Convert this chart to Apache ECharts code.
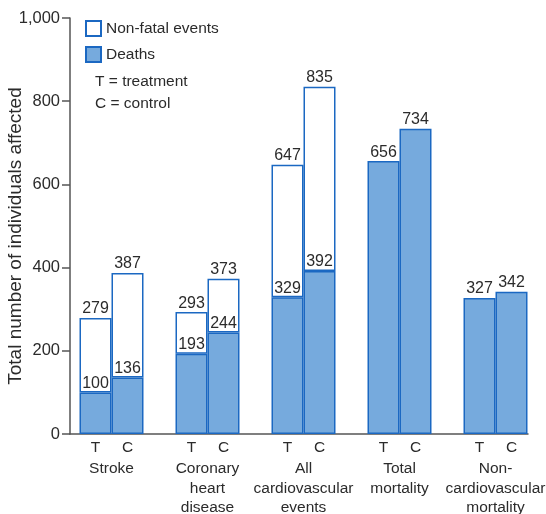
<!DOCTYPE html>
<html>
<head>
<meta charset="utf-8">
<script src="https://cdn.jsdelivr.net/npm/echarts@6/dist/echarts.min.js"></script>
<style>
  html, body { margin: 0; padding: 0; background: #fff; }
  #chart { width: 546px; height: 514px; }
</style>
</head>
<body>
<div id="chart"></div>
<script>
// outcome groups along the x axis
const groups = ["Stroke", "Coronary\nheart\ndisease", "All\ncardiovascular\nevents", "Total\nmortality", "Non-\ncardiovascular\nmortality"];

// deaths and total (deaths + non-fatal) for treatment and control
const deathsT = [100, 193, 329, 656, 327];
const deathsC = [136, 244, 392, 734, 342];
const totalT = [279, 293, 647, null, null];
const totalC = [387, 373, 835, null, null];

const yTicks = [0, 200, 400, 600, 800, 1000];

const FONT = "Liberation Sans, Arial, sans-serif";
const TEXT = "#2b2b2b";
const FILL = "#76aadd";
const EDGE = "#1b68c2";
const AXIS = "#555";

const nonFatal = (total, deaths) => total.map((t, i) => (t == null ? "-" : t - deaths[i]));

const chart = echarts.init(document.getElementById("chart"));

const deathSeries = (stack, data) => ({
    name: "Deaths",
    type: "bar",
    stack: stack,
    data: data,
    barWidth: 32,
    barGap: "0%",
    itemStyle: { color: FILL, borderColor: EDGE, borderWidth: 1.5 },
    label: {
        show: true,
        position: "top",
        distance: 1,
        color: TEXT,
        fontFamily: FONT,
        fontSize: 16,
    },
});

const nonFatalSeries = (stack, total, deaths) => ({
    name: "Non-fatal events",
    type: "bar",
    stack: stack,
    data: nonFatal(total, deaths),
    barWidth: 32,
    barGap: "0%",
    itemStyle: { color: "#fff", borderColor: EDGE, borderWidth: 1.5 },
    label: {
        show: true,
        position: "top",
        distance: 1,
        color: TEXT,
        fontFamily: FONT,
        fontSize: 16,
        formatter: (p) => total[p.dataIndex],
    },
});

chart.setOption({
    animation: false,
    textStyle: { fontFamily: FONT },
    title: {
        text: "T = treatment\nC = control",
        left: 90,
        top: 66,
        textStyle: { fontFamily: FONT, fontSize: 15.5, fontWeight: "normal", color: TEXT, lineHeight: 22 },
    },
    legend: {
        data: ["Non-fatal events", "Deaths"],
        orient: "vertical",
        left: 80,
        top: 15,
        icon: "rect",
        itemWidth: 15,
        itemHeight: 15,
        itemGap: 9,
        textStyle: { fontFamily: FONT, fontSize: 15.5, color: TEXT },
    },
    grid: [
        { left: 63.5, right: 2.5, top: 18, bottom: 80, outerBoundsMode: "none" },
        // second grid only carries the baseline, which runs from the y axis to the last bar
        { left: 70, right: 18, top: 18, bottom: 80, outerBoundsMode: "none" },
    ],
    xAxis: [
        {
            type: "category",
            gridIndex: 0,
            data: groups,
            axisLine: { show: false },
            axisTick: { show: false },
            axisLabel: {
                margin: 3,
                interval: 0,
                formatter: (v) => "{t|T}{c|C}\n" + v.split("\n").map((s) => "{n|" + s + "}").join("\n"),
                rich: {
                    t: { width: 32, align: "center", fontSize: 15.5, color: TEXT, fontFamily: FONT, lineHeight: 22 },
                    c: { width: 32, align: "center", fontSize: 15.5, color: TEXT, fontFamily: FONT, lineHeight: 22 },
                    n: { fontSize: 15.5, color: TEXT, fontFamily: FONT, lineHeight: 19.5 },
                },
            },
        },
        {
            type: "category",
            gridIndex: 1,
            data: [""],
            axisLine: { show: true, onZero: false, lineStyle: { color: AXIS, width: 1.5 } },
            axisTick: { show: false },
            axisLabel: { show: false },
        },
    ],
    yAxis: [
        {
            type: "value",
            gridIndex: 0,
            min: yTicks[0],
            max: yTicks[yTicks.length - 1],
            interval: 200,
            offset: -6.5,
            name: "Total number of individuals affected",
            nameLocation: "middle",
            nameGap: 45,
            nameMoveOverlap: false,
            nameTextStyle: { fontFamily: FONT, fontSize: 19, color: TEXT, padding: [0, 20, 0, 0] },
            axisLine: { show: true, lineStyle: { color: AXIS, width: 1.5 } },
            axisTick: { show: true, length: 8, lineStyle: { color: AXIS, width: 1.5 } },
            axisLabel: {
                margin: 10,
                fontSize: 16.5,
                color: TEXT,
                fontFamily: FONT,
                formatter: (v) => v.toLocaleString("en-US"),
            },
            splitLine: { show: false },
        },
        { type: "value", gridIndex: 1, show: false, min: 0, max: 1000 },
    ],
    series: [
        deathSeries("T", deathsT),
        nonFatalSeries("T", totalT, deathsT),
        deathSeries("C", deathsC),
        nonFatalSeries("C", totalC, deathsC),
    ],
});
</script>
</body>
</html>
